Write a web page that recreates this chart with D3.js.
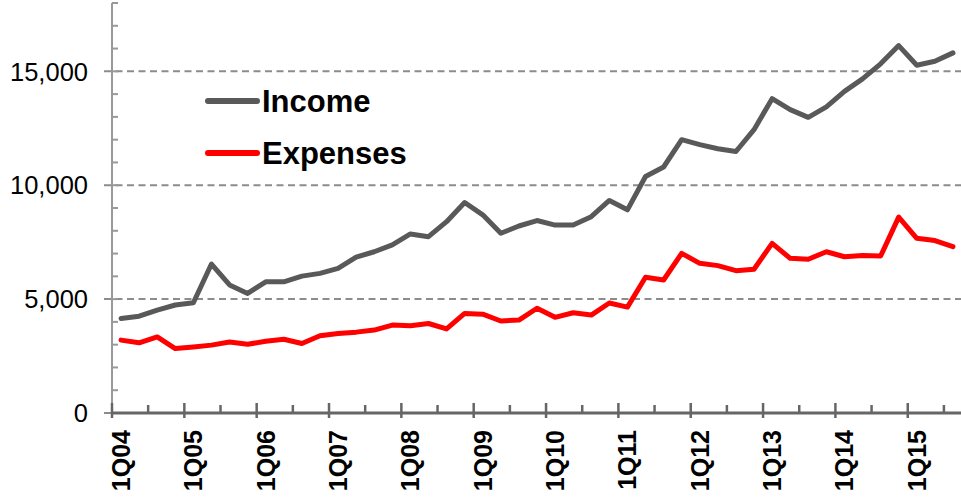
<!DOCTYPE html>
<html>
<head>
<meta charset="utf-8">
<script src="https://cdn.jsdelivr.net/npm/d3@7"></script>
<style>
  body { margin: 0; background: #fff; }
  svg { display: block; font-family: "Liberation Sans", Arial, sans-serif; }
</style>
</head>
<body>
<svg width="961" height="500"></svg>
<script>
const quarters = [
  "1Q04","2Q04","3Q04","4Q04","1Q05","2Q05","3Q05","4Q05",
  "1Q06","2Q06","3Q06","4Q06","1Q07","2Q07","3Q07","4Q07",
  "1Q08","2Q08","3Q08","4Q08","1Q09","2Q09","3Q09","4Q09",
  "1Q10","2Q10","3Q10","4Q10","1Q11","2Q11","3Q11","4Q11",
  "1Q12","2Q12","3Q12","4Q12","1Q13","2Q13","3Q13","4Q13",
  "1Q14","2Q14","3Q14","4Q14","1Q15","2Q15","3Q15"
];
const income = [
  4150, 4250, 4520, 4740, 4840, 6540, 5620, 5250, 5760, 5760, 6010, 6130,
  6350, 6840, 7080, 7380, 7860, 7740, 8400, 9240, 8700, 7890, 8210, 8450,
  8250, 8250, 8620, 9330, 8920, 10380, 10800, 12000, 11780, 11600, 11480, 12440,
  13800, 13320, 12980, 13440, 14120, 14670, 15330, 16130, 15270, 15440, 15810
];
const expenses = [
  3200, 3080, 3340, 2830, 2900, 2980, 3120, 3020, 3150, 3240, 3050, 3390,
  3490, 3550, 3640, 3860, 3830, 3930, 3690, 4370, 4340, 4040, 4080, 4600,
  4200, 4400, 4300, 4830, 4650, 5960, 5840, 7010, 6570, 6470, 6250, 6310,
  7450, 6790, 6750, 7080, 6860, 6910, 6890, 8600, 7670, 7570, 7300
];
const yTicks = [0, 5000, 10000, 15000];
const seriesNames = ["Income", "Expenses"];
const seriesColors = ["#595959", "#ff0000"];

const svg = d3.select("svg");
const plotLeft = 112, plotRight = 962, plotTop = 3, plotBottom = 413;

const x = d3.scaleBand().domain(quarters).range([plotLeft, plotRight]).paddingInner(0).paddingOuter(0);
const y = d3.scaleLinear().domain([0, 18000]).range([plotBottom, plotTop]);
const cx = q => x(q) + x.bandwidth() / 2;

// dashed gridlines
svg.append("g")
  .selectAll("line")
  .data(yTicks)
  .join("line")
  .attr("x1", plotLeft - 8)
  .attr("x2", 961)
  .attr("y1", d => y(d))
  .attr("y2", d => y(d))
  .attr("stroke", "#8c8c8c")
  .attr("stroke-width", 2)
  .attr("stroke-dasharray", "7,4.5");

// y axis: minor ticks inside, labels on the left
const yMinor = d3.range(0, 18001, 1000);
const yAxisG = svg.append("g").attr("transform", `translate(${plotLeft},0)`);
yAxisG.append("line")
  .attr("y1", plotTop).attr("y2", plotBottom)
  .attr("stroke", "#999").attr("stroke-width", 2);
yAxisG.selectAll(".minor")
  .data(yMinor)
  .join("line")
  .attr("class", "minor")
  .attr("x1", 0).attr("x2", 6)
  .attr("y1", d => y(d)).attr("y2", d => y(d))
  .attr("stroke", "#999").attr("stroke-width", 2);
yAxisG.selectAll("text")
  .data(yTicks)
  .join("text")
  .attr("x", -24)
  .attr("y", d => y(d))
  .attr("dy", "0.36em")
  .attr("text-anchor", "end")
  .attr("font-size", 25.5)
  .attr("fill", "#000")
  .text(d => d3.format(",")(d));

// x axis
const xAxisG = svg.append("g");
xAxisG.append("line")
  .attr("x1", plotLeft).attr("x2", 961)
  .attr("y1", plotBottom).attr("y2", plotBottom)
  .attr("stroke", "#666").attr("stroke-width", 3);
xAxisG.selectAll(".major")
  .data(quarters.filter(q => q.startsWith("1Q")))
  .join("line")
  .attr("class", "major")
  .attr("x1", d => x(d)).attr("x2", d => x(d))
  .attr("y1", plotBottom - 10).attr("y2", plotBottom + 5)
  .attr("stroke", "#666").attr("stroke-width", 2.5);
xAxisG.selectAll(".minor")
  .data(quarters.filter(q => q.startsWith("3Q")))
  .join("line")
  .attr("class", "minor")
  .attr("x1", d => x(d)).attr("x2", d => x(d))
  .attr("y1", plotBottom - 8).attr("y2", plotBottom)
  .attr("stroke", "#666").attr("stroke-width", 2.5);
xAxisG.selectAll("text")
  .data(quarters.filter(q => q.startsWith("1Q")))
  .join("text")
  .attr("transform", d => `translate(${cx(d)},430) rotate(-90)`)
  .attr("dy", "0.36em")
  .attr("text-anchor", "end")
  .attr("font-size", 25)
  .attr("font-weight", "bold")
  .attr("fill", "#000")
  .text(d => d);

// lines
const line = d3.line()
  .x((d, i) => cx(quarters[i]))
  .y(d => y(d));

[income, expenses].forEach((vals, k) => {
  svg.append("path")
    .datum(vals)
    .attr("fill", "none")
    .attr("stroke", seriesColors[k])
    .attr("stroke-width", 5)
    .attr("stroke-linejoin", "round")
    .attr("stroke-linecap", "round")
    .attr("d", line);
});

// legend
const legend = svg.append("g");
seriesNames.forEach((name, k) => {
  const ly = 101 + k * 52;
  legend.append("line")
    .attr("x1", 208).attr("x2", 257)
    .attr("y1", ly).attr("y2", ly)
    .attr("stroke", seriesColors[k])
    .attr("stroke-width", 6)
    .attr("stroke-linecap", "round");
  legend.append("text")
    .attr("x", 262)
    .attr("y", ly + 11)
    .attr("font-size", 31)
    .attr("font-weight", "bold")
    .attr("fill", "#000")
    .text(name);
});
</script>
</body>
</html>
